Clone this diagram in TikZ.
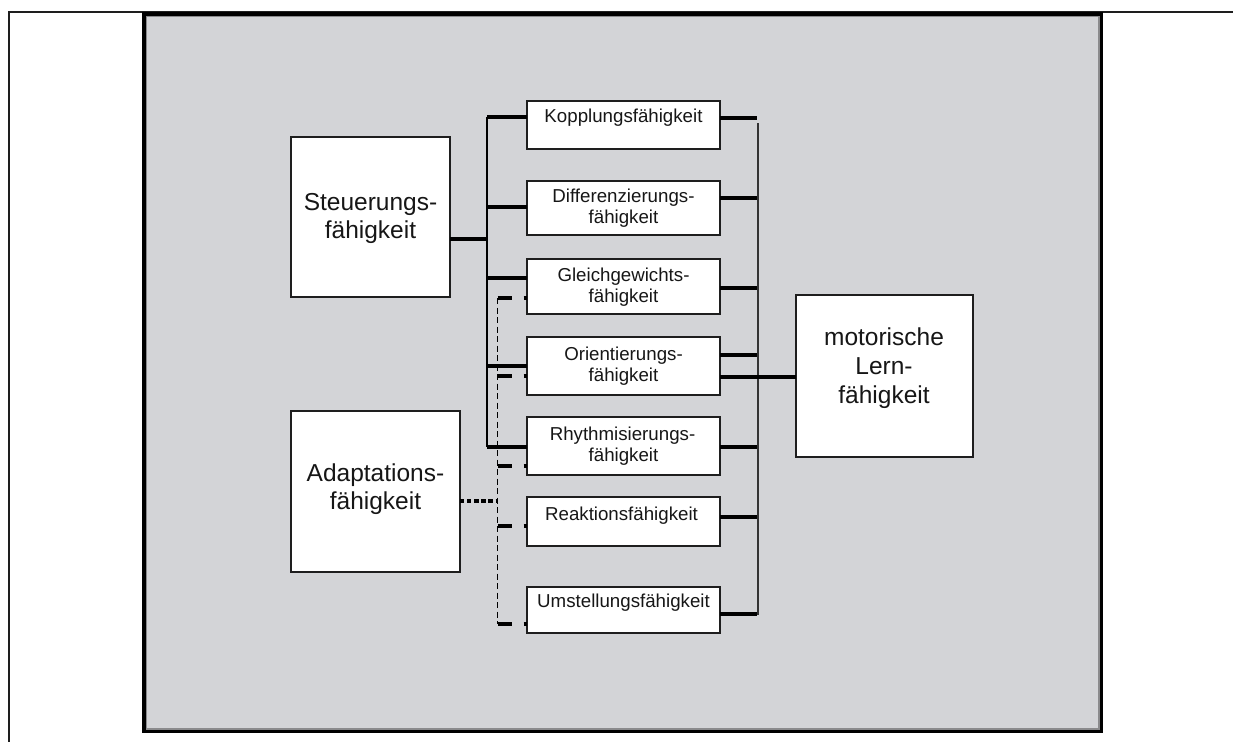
\documentclass[tikz,border=0pt]{standalone}
\usepackage{fontspec}
\setmainfont{Liberation Sans}
\definecolor{panelgray}{HTML}{D3D4D7}
\definecolor{panelrim}{HTML}{8A8A8C}
\definecolor{boxline}{HTML}{1E1E1E}
\definecolor{busgray}{HTML}{333333}
\definecolor{ink}{HTML}{161616}
\begin{document}
\begin{tikzpicture}[x=1pt,y=-1pt,
  box/.style={draw=boxline, line width=1.9pt, fill=white, inner sep=0pt, outer sep=0pt, anchor=north west},
  smalltxt/.style={anchor=base, inner sep=0pt, text=ink, font=\fontsize{18.7}{21}\selectfont},
  bigtxt/.style={anchor=base, inner sep=0pt, text=ink, font=\fontsize{24.5}{28}\selectfont},
  stub/.style={line width=3.6pt, black},
  lbus/.style={line width=2.3pt, black},
  rbus/.style={line width=1.9pt, busgray},
  dbus/.style={line width=1.6pt, black, dash pattern=on 6pt off 3.5pt},
  dstub/.style={line width=3.6pt, black, dash pattern=on 14pt off 12pt on 3pt off 10pt},
  dotline/.style={line width=4.3pt, black, dash pattern=on 4.3pt off 2.8pt}
]
\useasboundingbox (0,0) rectangle (1233,742);

% page frame
\draw[line width=1.6pt, boxline] (1233,12) -- (9,12) -- (9,742);

% grey panel with black rim
\fill[panelgray] (142.5,12.5) rectangle (1102.7,732.7);
\draw[line width=3.2pt, black] (144,14) rectangle (1101.2,731.2);
\draw[line width=1.3pt, panelrim] (146.2,16.2) rectangle (1099,729);

% main boxes
\node[box, minimum width=159pt, minimum height=160pt] (steu) at (291,137) {};
\node[box, minimum width=169pt, minimum height=161pt] (adap) at (291,411) {};
\node[box, minimum width=177pt, minimum height=162pt] (mot)  at (796,295) {};

% ability boxes
\node[box, minimum width=193pt, minimum height=48pt] (kop) at (527,101) {};
\node[box, minimum width=193pt, minimum height=54pt] (dif) at (527,181) {};
\node[box, minimum width=193pt, minimum height=55pt] (gle) at (527,259) {};
\node[box, minimum width=193pt, minimum height=58pt] (ori) at (527,337) {};
\node[box, minimum width=193pt, minimum height=58pt] (rhy) at (527,417) {};
\node[box, minimum width=193pt, minimum height=49pt] (rea) at (527,497) {};
\node[box, minimum width=193pt, minimum height=46pt] (ums) at (527,587) {};

% labels
\node[bigtxt] (steuA) at (370.5,210) {Steuerungs-};
\node[bigtxt] (steuB) at (370.5,238) {fähigkeit};
\node[bigtxt] (adapA) at (375.5,481) {Adaptations-};
\node[bigtxt] (adapB) at (375.5,509) {fähigkeit};
\node[bigtxt] (motA) at (884,345) {motorische};
\node[bigtxt] (motB) at (884,374) {Lern-};
\node[bigtxt] (motC) at (884,403) {fähigkeit};

\node[smalltxt] (kopA) at (623.5,122.3) {Kopplungsfähigkeit};
\node[smalltxt] (difA) at (623.5,202.7) {Differenzierungs-};
\node[smalltxt] (difB) at (623.5,223.3) {fähigkeit};
\node[smalltxt] (gleA) at (623.5,281.7) {Gleichgewichts-};
\node[smalltxt] (gleB) at (623.5,302) {fähigkeit};
\node[smalltxt] (oriA) at (623.5,360) {Orientierungs-};
\node[smalltxt] (oriB) at (623.5,381.7) {fähigkeit};
\node[smalltxt] (rhyA) at (622.5,440) {Rhythmisierungs-};
\node[smalltxt] (rhyB) at (623.5,461.7) {fähigkeit};
\node[smalltxt] (reaA) at (621.5,520) {Reaktionsfähigkeit};
\node[smalltxt] (umsA) at (623.5,607) {Umstellungsfähigkeit};

% junction points of the solid bus from the control box
\coordinate (s1) at (487,117);
\coordinate (s2) at (487,207);
\coordinate (s3) at (487,278);
\coordinate (s4) at (487,366);
\coordinate (s5) at (487,447);
\coordinate (sj) at (487,239);

\draw[lbus] (s1) -- (s5);
\draw[stub] (steu.east |- sj) -- (sj);
\draw[stub] (s1) -- (s1 -| kop.west);
\draw[stub] (s2) -- (s2 -| dif.west);
\draw[stub] (s3) -- (s3 -| gle.west);
\draw[stub] (s4) -- (s4 -| ori.west);
\draw[stub] (s5) -- (s5 -| rhy.west);

% dashed bus from the adaptation box
\coordinate (a1) at (497.5,298);
\coordinate (a2) at (497.5,376);
\coordinate (a3) at (497.5,466);
\coordinate (a4) at (497.5,526);
\coordinate (a5) at (497.5,624);
\coordinate (aj) at (497.5,501);

\draw[dbus] (a1) -- (a5);
\draw[dotline] (adap.east |- aj) -- (aj);
\draw[dstub] (a1) -- (a1 -| gle.west);
\draw[dstub] (a2) -- (a2 -| ori.west);
\draw[dstub] (a3) -- (a3 -| rhy.west);
\draw[dstub] (a4) -- (a4 -| rea.west);
\draw[dstub] (a5) -- (a5 -| ums.west);

% collecting bus towards motor learning
\coordinate (rtop) at (758.3,123);
\coordinate (rbot) at (758.3,615);
\draw[rbus] (rtop) -- (rbot);

\coordinate (r1) at (757,118);
\coordinate (r2) at (757,198);
\coordinate (r3) at (757,288);
\coordinate (r4) at (757,355);
\coordinate (r5) at (757,447);
\coordinate (r6) at (757,517);
\coordinate (r7) at (757,614);

\draw[stub] (r1 -| kop.east) -- (r1);
\draw[stub] (r2 -| dif.east) -- (r2);
\draw[stub] (r3 -| gle.east) -- (r3);
\draw[stub] (r4 -| ori.east) -- (r4);
\draw[stub] (r5 -| rhy.east) -- (r5);
\draw[stub] (r6 -| rea.east) -- (r6);
\draw[stub] (r7 -| ums.east) -- (r7);

\coordinate (mj) at (0,377);
\draw[line width=3.2pt, black] (ori.east |- mj) -- (mot.west |- mj);

\end{tikzpicture}
\end{document}
